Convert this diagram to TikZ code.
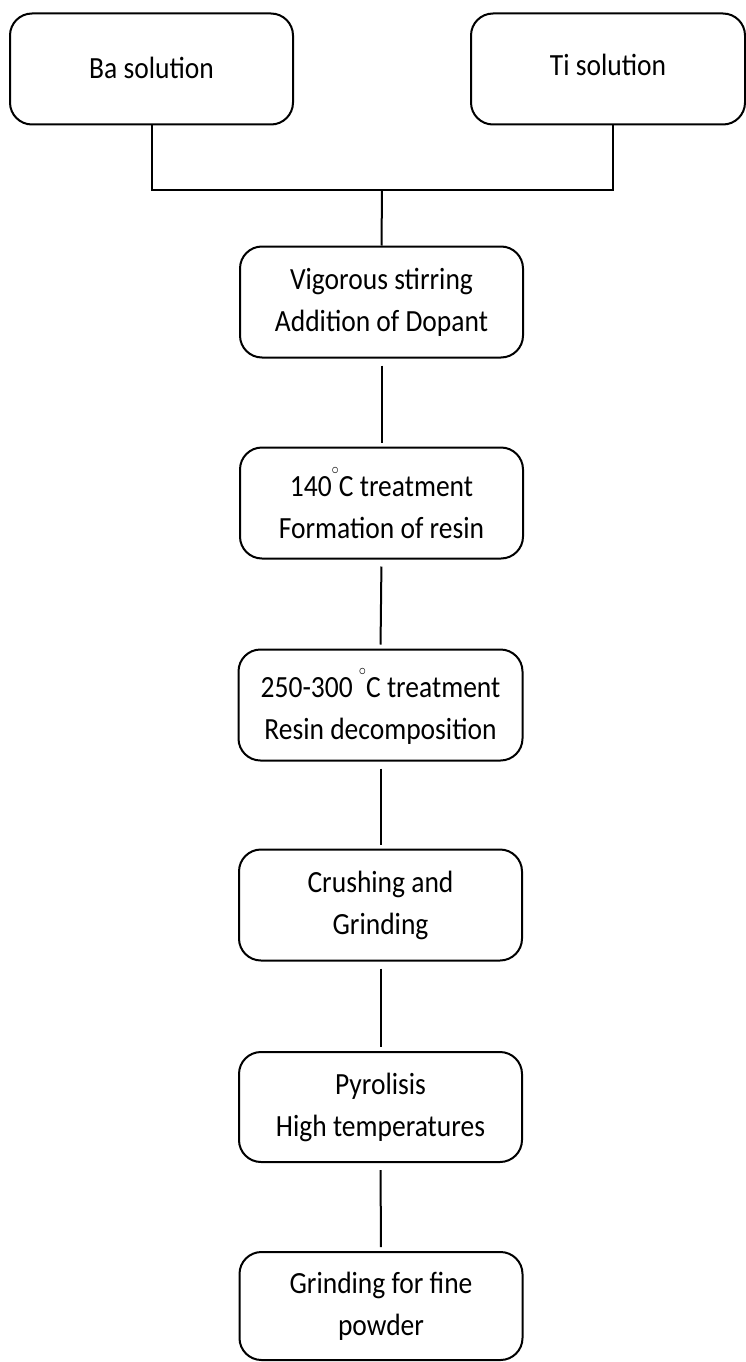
\documentclass[tikz,border=0pt]{standalone}
\usepackage{fontspec}
\usepackage{graphicx}
\setmainfont{Carlito}
\newcommand{\dgr}{\smash{\raisebox{0.72em}{\fontsize{14}{14}\selectfont$\circ$}}}
\newcommand{\tx}[1]{\scalebox{1}[1.12]{\begin{tabular}{@{}c@{}}#1\end{tabular}}}
\begin{document}
\begin{tikzpicture}[x=1pt,y=-1pt,
  box/.style={draw,line width=2pt,rounded corners=22pt,minimum width=283pt,minimum height=111pt,
    align=center,inner sep=0pt,font=\fontsize{27.5}{37.5}\selectfont},
  conn/.style={line width=2pt}]
\useasboundingbox (0,0) rectangle (746,1362);
\node[box] (ba) at (151.5,69) {\raisebox{-1pt}[\height][\depth]{\tx{Ba solution}}};
\node[box,minimum width=274pt] (ti) at (608,69) {\raisebox{2pt}[\height][\depth]{\tx{Ti solution}}};
\node[box] (n1) at (381.5,302) {\tx{Vigorous stirring\\Addition of Dopant}};
\node[box] (n2) at (381.5,503) {\raisebox{-6pt}[\height][\depth]{\tx{140\dgr C treatment\\Formation of resin}}};
\node[box,minimum width=284pt] (n3) at (380.5,705) {\raisebox{-5pt}[\height][\depth]{\tx{250-300 \dgr C treatment\\Resin decomposition}}};
\node[box] (n4) at (380.5,905) {\tx{Crushing and\\Grinding}};
\node[box,minimum height=110pt] (n5) at (380.5,1107) {\tx{Pyrolisis\\High temperatures}};
\node[box,minimum height=108pt] (n6) at (381,1306) {\tx{Grinding for fine\\powder}};
\coordinate (j) at (382,190);
\coordinate (tj) at (613,125);
\draw[conn] (ba.south) |- (j) -| (tj);
\draw[conn] (j) -- (n1.north);
\draw[conn,shorten <=7pt,shorten >=4pt] (n1.south) -- (n2.north);
\draw[conn,shorten <=7pt,shorten >=4pt] (n2.south) -- (n3.north);
\draw[conn,shorten <=7pt,shorten >=4pt] (n3.south) -- (n4.north);
\draw[conn,shorten <=7pt,shorten >=4pt] (n4.south) -- (n5.north);
\draw[conn,shorten <=7pt,shorten >=4pt] (n5.south) -- (n6.north);
\end{tikzpicture}
\end{document}
